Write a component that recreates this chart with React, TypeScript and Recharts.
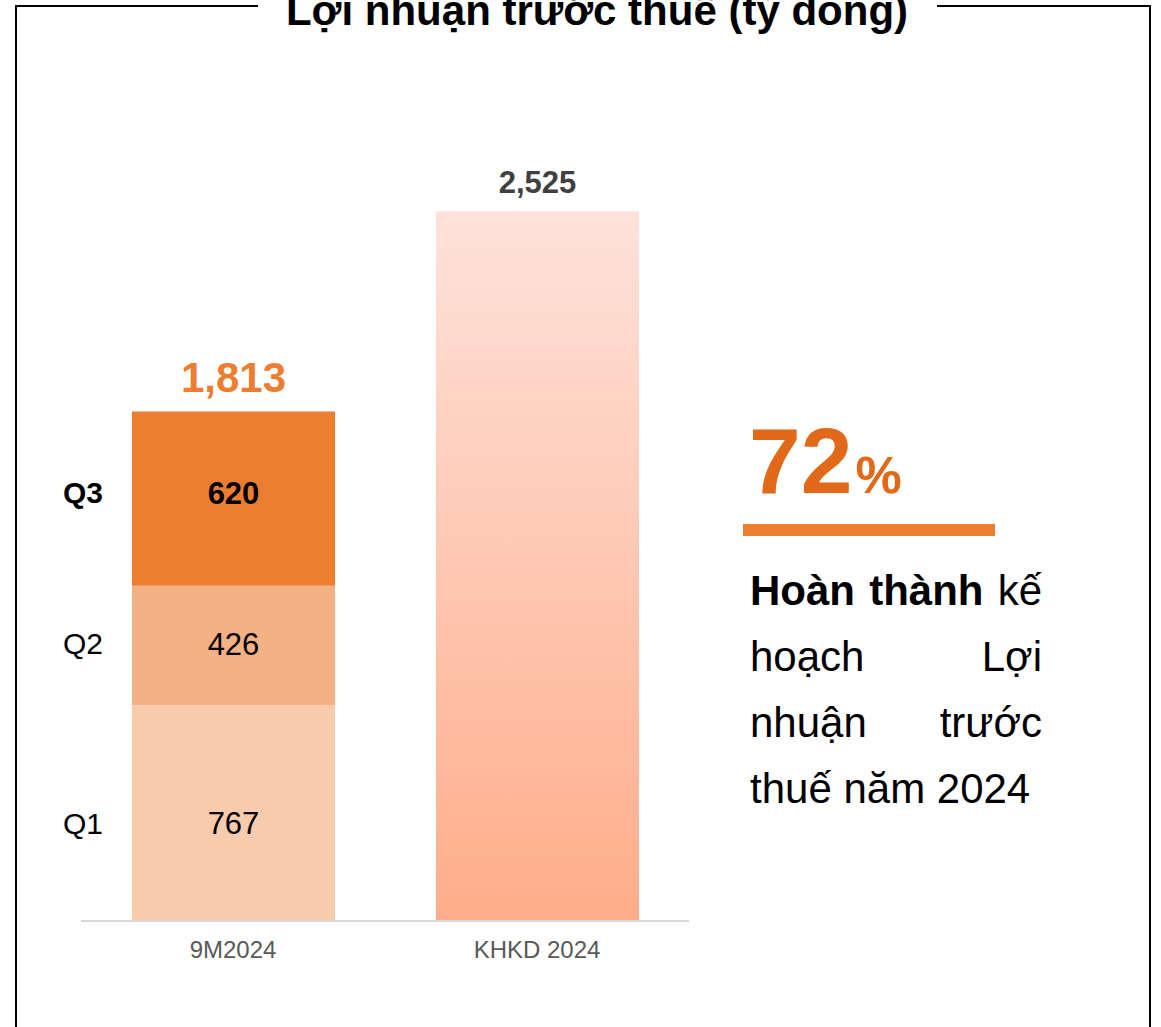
import React from 'react';
import { BarChart, Bar, XAxis, YAxis, LabelList } from 'recharts';

const categories = ['9M2024', 'KHKD 2024'];
const q1Values = [767, null];
const q2Values = [426, null];
const q3Values = [620, null];
const planValues = [null, 2525];
const quarterNames = ['Q1', 'Q2', 'Q3'];
const achievedPct = 72;

const FONT = '"Liberation Sans", Arial, sans-serif';

const data = categories.map((name, i) => ({
  name,
  q1: q1Values[i],
  q2: q2Values[i],
  q3: q3Values[i],
  plan: planValues[i],
}));

const fmt = (v: number) => v.toLocaleString('en-US');

// small vertical nudges of the segment labels, as in the original slide
const labelNudge = [10, -2, -6];

// label inside a quarter segment + the quarter name on the left of the bar
const segmentLabel = (qIdx: number, bold: boolean) => (props: any) => {
  const { x, y, width, height, value } = props;
  if (value == null) return null;
  const cy = Number(y) + Number(height) / 2 + labelNudge[qIdx];
  return (
    <g>
      <text x={Number(x) + Number(width) / 2} y={cy} dy="0.36em" textAnchor="middle"
        fontSize={31} fontWeight={bold ? 700 : 400} fill="#000" fontFamily={FONT}>
        {fmt(value)}
      </text>
      <text x={83} y={cy} dy="0.36em" textAnchor="middle"
        fontSize={30} fontWeight={bold ? 700 : 400} fill="#000" fontFamily={FONT}>
        {quarterNames[qIdx]}
      </text>
    </g>
  );
};

const totalLabel = (props: any) => {
  const { x, y, width, value, index } = props;
  if (value == null) return null;
  const total = (q1Values[index] ?? 0) + (q2Values[index] ?? 0) + (q3Values[index] ?? 0);
  return (
    <text x={Number(x) + Number(width) / 2} y={Number(y) - 19} textAnchor="middle"
      fontSize={42} fontWeight={700} fill="#ED7D31" fontFamily={FONT}>
      {fmt(total)}
    </text>
  );
};

const planLabel = (props: any) => {
  const { x, y, width, value } = props;
  if (value == null) return null;
  return (
    <text x={Number(x) + Number(width) / 2} y={Number(y) - 18} textAnchor="middle"
      fontSize={31} fontWeight={700} fill="#404040" fontFamily={FONT}>
      {fmt(value)}
    </text>
  );
};

const abs = (s: React.CSSProperties): React.CSSProperties => ({ position: 'absolute', ...s });

export default function App() {
  return (
    <div style={abs({ left: 0, top: 0, width: 1161, height: 1027, overflow: 'hidden', background: '#fff', fontFamily: FONT })}>
      {/* frame */}
      <div style={abs({ left: 15, top: 5, width: 2, height: 1030, background: '#000' })} />
      <div style={abs({ left: 1149, top: 5, width: 2, height: 1030, background: '#000' })} />
      <div style={abs({ left: 15, top: 5, width: 243, height: 2, background: '#000' })} />
      <div style={abs({ left: 937, top: 5, width: 214, height: 2, background: '#000' })} />

      {/* title */}
      <div style={abs({ left: 197, top: -10.5, width: 800, textAlign: 'center', fontSize: 42, lineHeight: '42px', fontWeight: 700, color: '#000', whiteSpace: 'nowrap' })}>
        Lợi nhuận trước thuế (tỷ đồng)
      </div>

      <div style={abs({ left: 0, top: 0 })}>
        <BarChart width={700} height={1000} data={data}
          margin={{ top: 134, right: 11, left: 81, bottom: 49 }}>
          <defs>
            <linearGradient id="planGrad" x1="0" y1="0" x2="0" y2="1">
              <stop offset="0%" stopColor="#FEE2DA" />
              <stop offset="100%" stopColor="#FFAD8A" />
            </linearGradient>
          </defs>
          <XAxis dataKey="name" height={30} tickLine={false}
            axisLine={{ stroke: '#D9D9D9', strokeWidth: 2 }}
            tickMargin={14}
            tick={{ fontSize: 24, fill: '#595959', fontFamily: FONT }} />
          <YAxis hide domain={[0, 2800]} />
          <Bar dataKey="q1" stackId="s" fill="#F8CBAD" barSize={203} isAnimationActive={false}>
            <LabelList dataKey="q1" content={segmentLabel(0, false)} />
          </Bar>
          <Bar dataKey="q2" stackId="s" fill="#F4B183" barSize={203} isAnimationActive={false}>
            <LabelList dataKey="q2" content={segmentLabel(1, false)} />
          </Bar>
          <Bar dataKey="q3" stackId="s" fill="#ED7D31" barSize={203} isAnimationActive={false}>
            <LabelList dataKey="q3" content={segmentLabel(2, true)} />
            <LabelList dataKey="q3" content={totalLabel} />
          </Bar>
          <Bar dataKey="plan" stackId="s" fill="url(#planGrad)" barSize={203} isAnimationActive={false}>
            <LabelList dataKey="plan" content={planLabel} />
          </Bar>
        </BarChart>
      </div>

      {/* completion block */}
      <div style={abs({ left: 749, top: 415, fontSize: 93, lineHeight: '93px', fontWeight: 700, color: '#E0691A', whiteSpace: 'nowrap' })}>
        {achievedPct}<span style={{ fontSize: 52, marginLeft: 3 }}>%</span>
      </div>
      <div style={abs({ left: 743, top: 524, width: 252, height: 12, background: '#ED7D31' })} />
      <div style={abs({ left: 750, top: 558, width: 292, fontSize: 42, lineHeight: '66px', color: '#000', whiteSpace: 'nowrap' })}>
        <div style={{ textAlign: 'justify', textAlignLast: 'justify' }}><b>Hoàn thành</b> kế</div>
        <div style={{ textAlign: 'justify', textAlignLast: 'justify' }}>hoạch Lợi</div>
        <div style={{ textAlign: 'justify', textAlignLast: 'justify' }}>nhuận trước</div>
        <div style={{ textAlign: 'left' }}>thuế năm 2024</div>
      </div>
    </div>
  );
}
